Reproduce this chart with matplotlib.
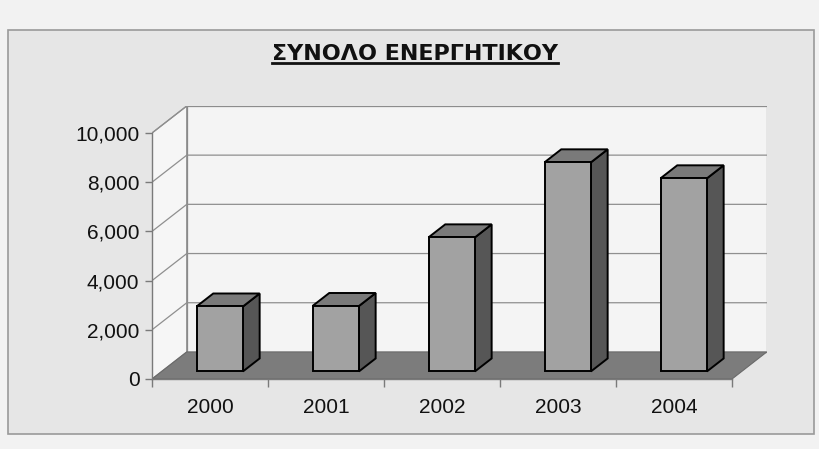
import matplotlib
matplotlib.use("Agg")
import matplotlib.pyplot as plt
from matplotlib.patches import Polygon, Rectangle
from matplotlib.lines import Line2D
from matplotlib.ticker import FuncFormatter

title = "ΣΥΝΟΛΟ ΕΝΕΡΓΗΤΙΚΟΥ"
years = ["2000", "2001", "2002", "2003", "2004"]
values = [2640, 2660, 5450, 8500, 7850]
yticks = [0, 2000, 4000, 6000, 8000, 10000]

plt.rcParams['font.family'] = ['Liberation Sans', 'DejaVu Sans']

W, H = 820, 449
fig = plt.figure(figsize=(W / 100, H / 100), dpi=100)
fig.patch.set_facecolor('#f2f2f2')

def fx(px):
    return px / W

def fy(py):
    return 1 - py / H

# chart area box
fig.patches.append(Rectangle((fx(8), fy(434)), fx(806), (434 - 30) / H,
                             transform=fig.transFigure, facecolor='#e6e6e6',
                             edgecolor='#9a9a9a', lw=1.2, zorder=-5))

n = len(years)
dx = 0.30      # depth offset in category units
dy = 1100      # depth offset in value units
ymax = yticks[-1]
px_per_cat = 116
px_per_val = 24.6 / 1000

left_px, bottom_px = 152, 379
w_px = px_per_cat * (n + dx)
h_px = px_per_val * (ymax + dy)
ax = fig.add_axes([fx(left_px), fy(bottom_px), w_px / W, h_px / H])
ax.set_zorder(3)
ax.set_xlim(-0.5, n - 0.5 + dx)
ax.set_ylim(0, ymax + dy)
ax.patch.set_alpha(0)

x0, x1 = -0.5, n - 0.5
wall_edge = '#8a8a8a'
# left side wall
ax.add_patch(Polygon([(x0, 0), (x0 + dx, dy), (x0 + dx, ymax + dy), (x0, ymax)],
                     closed=True, facecolor='#f6f6f6', edgecolor=wall_edge, lw=0.9, zorder=1))
# back wall
ax.add_patch(Polygon([(x0 + dx, dy), (x1 + dx, dy), (x1 + dx, ymax + dy), (x0 + dx, ymax + dy)],
                     closed=True, facecolor='#f4f4f4', edgecolor=wall_edge, lw=0.9, zorder=1))
# gridlines
for v in yticks[1:]:
    ax.plot([x0, x0 + dx, x1 + dx], [v, v + dy, v + dy], color='#8f8f8f', lw=0.9, zorder=2)
# floor
ax.add_patch(Polygon([(x0, 0), (x1, 0), (x1 + dx, dy), (x0 + dx, dy)],
                     closed=True, facecolor='#7c7c7c', edgecolor='#6a6a6a', lw=0.8, zorder=3))

# bars
bw = 0.40
f0, f1 = 0.28, 0.76
for i, v in enumerate(values):
    bx = i - bw / 2 + f0 * dx
    b = f0 * dy
    ddx = (f1 - f0) * dx
    ddy = (f1 - f0) * dy
    side = [(bx + bw, b), (bx + bw + ddx, b + ddy), (bx + bw + ddx, b + ddy + v), (bx + bw, b + v)]
    top = [(bx, b + v), (bx + bw, b + v), (bx + bw + ddx, b + v + ddy), (bx + ddx, b + v + ddy)]
    front = [(bx, b), (bx + bw, b), (bx + bw, b + v), (bx, b + v)]
    ax.add_patch(Polygon(side, closed=True, facecolor='#565656', edgecolor='black', lw=1.4, zorder=5))
    ax.add_patch(Polygon(top, closed=True, facecolor='#7a7a7a', edgecolor='black', lw=1.4, zorder=5))
    ax.add_patch(Polygon(front, closed=True, facecolor='#a2a2a2', edgecolor='black', lw=1.4, zorder=6))

# axes
for s in ['top', 'right']:
    ax.spines[s].set_visible(False)
ax.spines['left'].set_bounds(0, ymax)
ax.spines['bottom'].set_bounds(x0, x1)
for s in ['left', 'bottom']:
    ax.spines[s].set_color('#7a7a7a')
    ax.spines[s].set_linewidth(1.0)
    ax.spines[s].set_zorder(4)

ax.set_yticks(yticks)
ax.yaxis.set_major_formatter(FuncFormatter(lambda v, p: f"{int(v):,}"))
ax.tick_params(axis='y', direction='out', length=5, width=1, color='#7a7a7a',
               labelsize=15, pad=4, labelcolor='#111111')
ax.set_xticks([x0 + k for k in range(n + 1)])
ax.set_xticklabels([])
ax.set_xticks(list(range(n)), minor=True)
ax.set_xticklabels(years, minor=True)
ax.tick_params(axis='x', which='major', direction='out', length=6, width=1, color='#7a7a7a')
ax.tick_params(axis='x', which='minor', length=0, labelsize=15, pad=14, labelcolor='#111111')

# title with underline
t = fig.text(fx(415), fy(54), title, ha='center', va='center', fontsize=16,
             fontweight='bold', color='#111111', family=['DejaVu Sans'])
fig.canvas.draw()
bb = t.get_window_extent().transformed(fig.transFigure.inverted())
fig.add_artist(Line2D([bb.x0, bb.x1], [bb.y0 + 0.002, bb.y0 + 0.002],
                      transform=fig.transFigure, color='#111111', lw=2.0))

fig.savefig('out.png', dpi=100, facecolor=fig.get_facecolor())
